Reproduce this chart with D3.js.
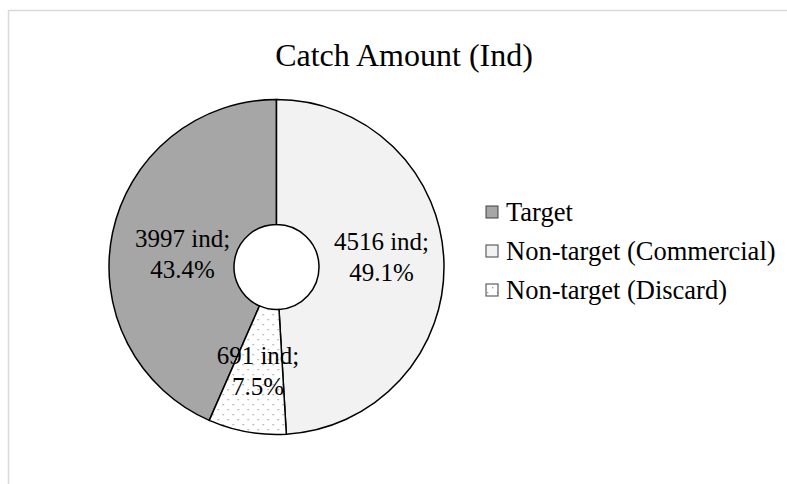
<!DOCTYPE html>
<html>
<head>
<meta charset="utf-8">
<script src="https://cdn.jsdelivr.net/npm/d3@7"></script>
<style>
  body { margin: 0; background: #fff; }
  svg { display: block; }
  text { font-family: "Liberation Serif", "Times New Roman", serif; fill: #000; }
</style>
</head>
<body>
<div id="chart"></div>
<script>
const categories = ['Target', 'Non-target (Commercial)', 'Non-target (Discard)'];
const counts = [3997, 4516, 691];
const fills = ['#a6a6a6', '#f2f2f2', 'url(#dots)'];

const width = 787;
const height = 484;
const cx = 276.5, cy = 267;
const outerR = 167.5, innerR = 42.5;

const svg = d3.select('#chart')
  .append('svg')
  .attr('width', width)
  .attr('height', height);

// dotted fill like Excel's 5% pattern
const pat = svg.append('defs').append('pattern')
  .attr('id', 'dots')
  .attr('width', 10)
  .attr('height', 10)
  .attr('patternUnits', 'userSpaceOnUse');
pat.append('rect').attr('width', 10).attr('height', 10).attr('fill', '#fff');
pat.append('rect').attr('x', 1).attr('y', 2).attr('width', 1.3).attr('height', 1.3).attr('fill', '#999');
pat.append('rect').attr('x', 6).attr('y', 7).attr('width', 1.3).attr('height', 1.3).attr('fill', '#999');

// chart area border
svg.append('rect')
  .attr('x', 8.5)
  .attr('y', 10.5)
  .attr('width', 820)
  .attr('height', 520)
  .attr('fill', 'none')
  .attr('stroke', '#d9d9d9')
  .attr('stroke-width', 1.5);

svg.append('text')
  .attr('x', 404)
  .attr('y', 66)
  .attr('text-anchor', 'middle')
  .style('font-size', '32px')
  .text('Catch Amount (Ind)');

const total = d3.sum(counts);
// Target ends at 12 o'clock, others follow clockwise
const startAngle = 2 * Math.PI * (1 - counts[0] / total);
const pie = d3.pie()
  .sort(null)
  .value(d => d)
  .startAngle(startAngle)
  .endAngle(startAngle + 2 * Math.PI);

const arc = d3.arc().innerRadius(innerR).outerRadius(outerR);
const arcs = pie(counts);

const g = svg.append('g').attr('transform', `translate(${cx},${cy})`);

g.selectAll('path')
  .data(arcs)
  .enter()
  .append('path')
  .attr('d', arc)
  .attr('fill', (d, i) => fills[i])
  .attr('stroke', '#000')
  .attr('stroke-width', 1.5);

// labels sit on the slice's mid-angle, nudged a little like Excel's best fit
const labelR = [96, 105, 105];
const labelDy = [6, -8, 0];
const fmt = d3.format('.1f');
arcs.forEach((d, i) => {
  const [x, y0] = d3.arc().innerRadius(labelR[i]).outerRadius(labelR[i]).centroid(d);
  const y = y0 + labelDy[i];
  const t = g.append('text')
    .attr('text-anchor', 'middle')
    .style('font-size', '25px');
  t.append('tspan').attr('x', x).attr('y', y - 6).text(`${counts[i]} ind;`);
  t.append('tspan').attr('x', x).attr('y', y + 25).text(`${fmt(counts[i] / total * 100)}%`);
});

// legend
const legend = svg.append('g')
  .selectAll('g')
  .data(categories)
  .enter()
  .append('g')
  .attr('transform', (d, i) => `translate(486,${212 + i * 39})`);

legend.append('rect')
  .attr('x', 0)
  .attr('y', -6)
  .attr('width', 12)
  .attr('height', 12)
  .attr('fill', (d, i) => fills[i])
  .attr('stroke', '#404040')
  .attr('stroke-width', 1);

legend.append('text')
  .attr('x', 20)
  .attr('y', 0)
  .attr('dy', '0.35em')
  .style('font-size', '26.5px')
  .text(d => d);
</script>
</body>
</html>
